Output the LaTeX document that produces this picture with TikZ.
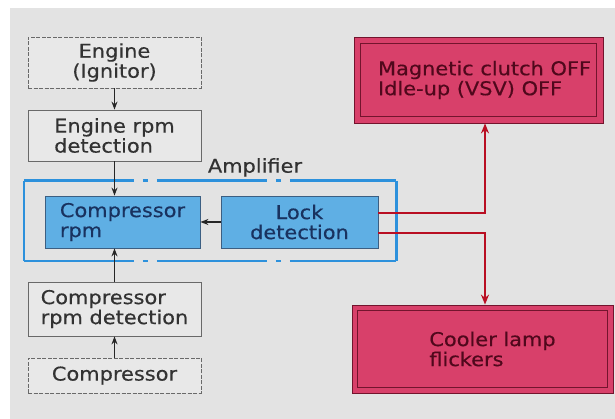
\documentclass[tikz,border=0pt]{standalone}
\usepackage{fontspec}
\setmainfont{DejaVu Sans}[FakeStretch=1.1, FakeBold=0.4]
\usepackage{tikz}
\usetikzlibrary{arrows.meta}
\definecolor{bggray}{RGB}{227,227,227}
\definecolor{boxgray}{RGB}{232,232,232}
\definecolor{edgegray}{RGB}{105,105,105}
\definecolor{txtgray}{RGB}{50,50,50}
\definecolor{ampblue}{RGB}{45,145,220}
\definecolor{boxblue}{RGB}{95,175,228}
\definecolor{edgeblue}{RGB}{60,95,130}
\definecolor{txtblue}{RGB}{25,50,95}
\definecolor{boxred}{RGB}{216,64,106}
\definecolor{edgered}{RGB}{115,20,45}
\definecolor{txtred}{RGB}{80,8,28}
\definecolor{linered}{RGB}{185,15,35}
\tikzstyle{graybox} = [rectangle, minimum width=173pt, minimum height=51pt, align=left, draw=edgegray, line width=0.8pt, fill=boxgray, text=txtgray]
\tikzstyle{grayboxdash} = [graybox, dash pattern=on 4pt off 1.5pt]
\tikzstyle{bluebox} = [rectangle, minimum height=52pt, align=left, draw=edgeblue, line width=0.8pt, fill=boxblue, text=txtblue]
\tikzstyle{redbox} = [rectangle, align=left, draw=edgered, line width=0.8pt, fill=boxred, text=txtred]
\tikzstyle{redinner} = [draw=edgered, line width=1.2pt]
\tikzstyle{ampline} = [draw=ampblue, line width=2.6pt, dash pattern=on 110pt off 9pt on 5pt off 9pt]
\tikzstyle{arrow} = [line width=1.2pt, -{Stealth[length=8pt, width=6pt]}, black!85]
\tikzstyle{redarrow} = [line width=2.4pt, -{Stealth[length=10pt, width=8pt]}, linered]

\begin{document}
\begin{tikzpicture}[x=1pt, y=1pt, font=\fontsize{19}{20}\selectfont]

    % Background
    \useasboundingbox (0,0) rectangle (615,419);
    \fill[white] (0,0) rectangle (615,419);
    \fill[bggray] (10,0) rectangle (615,411);

    % Amplifier frame
    \node (amp) [minimum width=372pt, minimum height=80pt, inner sep=0pt] at (210,198) {};
    \draw[ampline] (amp.north west) -- (amp.north east);
    \draw[ampline] (amp.south west) -- (amp.south east);
    \draw[draw=ampblue, line width=2.6pt] (amp.north west) -- (amp.south west) (amp.north east) -- (amp.south east);
    \node (amplabel) [anchor=south, inner sep=1pt, text=txtgray, yshift=3pt] at ([xshift=45pt]amp.north) {Amplifier};

    % Place nodes
    \node (engine) [grayboxdash, align=center] at (114.5,356.5) {Engine\\(Ignitor)};
    \node (rpmdet) [graybox, below of=engine, node distance=73pt] {Engine rpm\\detection};
    \node (comprpm) [bluebox, minimum width=155pt] at (122.5,197) {Compressor\\rpm};
    \node (lock) [bluebox, minimum width=157pt, align=center, right of=comprpm, node distance=177pt] {Lock\\detection};
    \node (compdet) [graybox, minimum height=54pt] at (114.5,110) {Compressor\\rpm detection};
    \node (compressor) [grayboxdash, minimum height=35pt, below of=compdet, node distance=66.5pt] {Compressor};
    \node (clutch) [redbox, minimum width=249pt, minimum height=86pt] at (478.5,339) {\hspace*{12pt}Magnetic clutch OFF\\\hspace*{12pt}Idle-up (VSV) OFF};
    \node (cooler) [redbox, minimum width=261pt, minimum height=88pt] at (482.5,70) {\hspace*{20pt}Cooler lamp\\\hspace*{20pt}flickers};
    \draw[redinner] ([shift={(7,-7)}]clutch.north west) rectangle ([shift={(-7,7)}]clutch.south east);
    \draw[redinner] ([shift={(6,-6)}]cooler.north west) rectangle ([shift={(-6,6)}]cooler.south east);

    % Draw edges
    \draw [arrow] (engine) -- (rpmdet);
    \draw [arrow] (rpmdet) -- (rpmdet |- comprpm.north);
    \draw [arrow] (compdet) -- (compdet |- comprpm.south);
    \draw [arrow] (compressor) -- (compdet);
    \draw [arrow] (lock) -- (comprpm);
    \draw [redarrow] ([yshift=9pt]lock.east) -| ([xshift=6.5pt]clutch.south);
    \draw [redarrow] ([yshift=-11pt]lock.east) -| ([xshift=2.5pt]cooler.north);

\end{tikzpicture}
\end{document}
